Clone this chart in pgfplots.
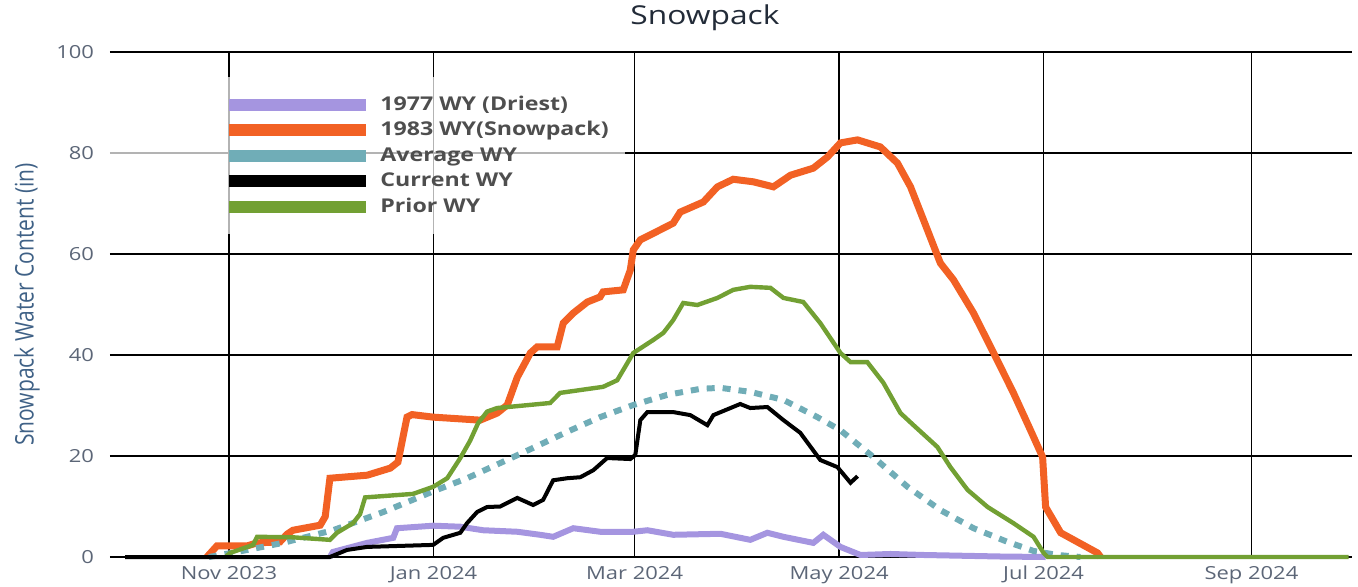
\documentclass[border=0pt]{standalone}
\usepackage{graphicx}
\usepackage{fontspec}
\setmainfont{Open Sans}[FakeStretch=1.22]
\newfontfamily\ylabfont{Open Sans}
\usepackage{pgfplots}
\pgfplotsset{compat=1.18}
\definecolor{purp}{HTML}{A595E0}
\definecolor{orng}{HTML}{F26124}
\definecolor{teal2}{HTML}{70ADB7}
\definecolor{grn}{HTML}{72A033}
\definecolor{tickc}{HTML}{5C6677}
\definecolor{ylabc}{HTML}{3F6186}
\definecolor{titlec}{HTML}{222B38}
\definecolor{legc}{HTML}{4E4E4E}
\begin{document}
\begin{tikzpicture}[x=1pt,y=1pt]
\useasboundingbox (-55,-14.5) rectangle (624,278.5);
\begin{axis}[
  at={(0,0)}, anchor=south west,
  scale only axis, width=621pt, height=252.5pt,
  xmin=-4.5, xmax=366, ymin=0, ymax=100,
  clip=false,
  axis line style={draw=none},
  major tick length=0pt,
  xtick={31,92,152,213,274,336},
  xticklabels={Nov 2023,Jan 2024,Mar 2024,May 2024,Jul 2024,Sep 2024},
  ytick={0,20,40,60,80,100},
  grid=major,
  major grid style={black, line width=0.75pt},
  /pgf/number format/assume math mode=true,
  tick label style={font=\fontsize{9}{10}\selectfont, text=tickc},
  xticklabel style={yshift=-1pt},
  yticklabel style={xshift=-4.5pt},
  title={Snowpack},
  title style={at={(axis description cs:0.479,1)}, anchor=center, yshift=11pt,
    font=\fontsize{13}{15}\selectfont, text=titlec},
  ylabel={\scalebox{1}[1.22]{\ylabfont\fontsize{10.5}{12}\selectfont Snowpack Water Content (in)}},
  ylabel style={at={(axis description cs:-0.0668,0.5)}, anchor=center, text=ylabc},
  legend image code/.code={%
    \path[draw=none] (0pt,0pt) -- (135pt,0pt);
    \draw[#1, line width=6pt] (59.5pt,0pt) -- (128pt,0pt);},
  legend cell align=left,
  legend style={at={(axis description cs:-0.0129,0.9505)}, anchor=north west,
    fill=white, fill opacity=0.7, text opacity=1, draw=none,
    inner xsep=8pt, inner ysep=8pt, row sep=1.2pt, column sep=0pt,
    nodes={inner xsep=0pt, inner ysep=1pt, text height=7.5pt, text depth=2pt},
    font=\bfseries\fontsize{9.5}{11}\selectfont, text=legc},
]
\addlegendimage{purp}
\addlegendentry{1977 WY (Driest)}
\addlegendimage{orng}
\addlegendentry{1983 WY(Snowpack)}
\addlegendimage{teal2}
\addlegendentry{Average WY}
\addlegendimage{black}
\addlegendentry{Current WY}
\addlegendimage{grn}
\addlegendentry{Prior WY}

% 1977 WY (Driest)
\addplot[purp, line width=3pt, forget plot] coordinates {
(61.1,0) (62,1) (72.2,2.8) (80,3.8) (81.1,5.7) (91.9,6.2) (100,6.0)
(106.8,5.3) (117,5.0) (123.8,4.4) (127.7,4.0) (133.7,5.7) (141.7,5.0)
(151.6,5.0) (155.8,5.3) (163.5,4.4) (177.6,4.6) (186.5,3.4) (191.6,4.8)
(196.4,4.0) (205.3,2.8) (208.3,4.4) (213.4,2.0) (219.4,0.4) (228.3,0.6)
(238.2,0.4) (261.1,0.1) (274.6,0)};

% 1983 WY (Snowpack)
\addplot[orng, line width=3.5pt, forget plot] coordinates {
(24.4,0) (27.4,2.2) (36.4,2.2) (39.4,2.8) (46.2,3.0) (48.3,4.5)
(50.1,5.3) (58.2,6.3) (59.7,8) (61.1,15.6) (72.2,16.2) (79.1,17.6)
(81.4,18.8) (84.1,27.7) (85.6,28.2) (91.9,27.7) (105.9,27.1) (111,28.5)
(114,30.1) (117,35.6) (120.9,40.4) (122.9,41.6) (128.9,41.6) (130.7,46.3)
(133.7,48.3) (137.9,50.5) (141.7,51.5) (142.6,52.5) (148.6,52.9)
(150.7,56.8) (151.6,60.8) (153.7,62.8) (157.6,64.1) (163.5,66.1)
(165.6,68.3) (172.5,70.3) (176.7,73.3) (181.4,74.8) (187.4,74.3)
(193.4,73.3) (198.5,75.6) (205.3,77) (209.5,79.2) (213.4,82) (218.5,82.6)
(225.3,81.2) (230.4,78) (234.3,73.3) (238.2,66.7) (243.2,58.2) (247.1,54.9)
(253.1,48.3) (259.1,40.4) (265,32.5) (270.1,25.1) (273.7,19.8) (274.6,9.9)
(279.1,4.8) (290.1,0.8) (291,0)};

% Average WY
\addplot[teal2, line width=3pt, dash pattern=on 4pt off 4pt, forget plot] coordinates {
(25,0) (33.4,1) (47.1,2.8) (62,5.3) (77,8.9) (91.9,13) (102,15.6)
(111.9,18.6) (121.7,21.6) (131.9,24.8) (141.7,27.7) (151.6,30.1)
(161.7,32.1) (171.6,33.3) (177.6,33.5) (186.5,32.7) (196.4,31.1)
(206.5,27.7) (213.4,25.1) (223.2,19.8) (233.4,13.9) (243.2,9.3)
(253.1,5.7) (263.2,3) (271,1.2) (278.2,0.4) (285,0)};

% Prior WY
\addplot[grn, line width=2.2pt, forget plot] coordinates {
(30,0) (31.3,0.8) (38.2,2.4) (39.4,4) (50.1,3.9) (61.1,3.4)
(63.2,4.8) (68,6.7) (70.1,8.5) (71.6,11.8) (85.9,12.5) (91.9,13.9)
(96.1,15.6) (100,19.6) (102.9,23) (105.3,26.5) (108,28.8) (111,29.5)
(126.8,30.5) (129.8,32.5) (142.6,33.7) (146.8,35) (151.6,40.4)
(157.6,43) (160.6,44.4) (163.5,46.9) (166.5,50.3) (170.7,49.9)
(176.7,51.3) (181.4,52.9) (186.5,53.5) (192.5,53.3) (196.4,51.3)
(202.3,50.5) (207.4,46.3) (213.4,40.4) (216.4,38.6) (221.4,38.6)
(226.2,34.5) (231.3,28.5) (235.2,26.1) (242.3,21.8) (246.2,17.8)
(251.3,13.3) (257.3,9.9) (265,6.7) (271,4) (274,0.8) (275.2,0) (365,0)};

% Current WY
\addplot[black, line width=2pt, forget plot] coordinates {
(0,0) (61.1,0) (66.2,1.4) (72.2,2.0) (91.9,2.4) (94.9,3.8) (100,4.8)
(102,6.7) (105,8.9) (108,9.9) (111.9,10) (117,11.7) (121.7,10.3)
(124.7,11.3) (127.7,15.2) (131.9,15.6) (135.8,15.8) (139.7,17.2)
(143.8,19.6) (150.7,19.4) (152.2,20.2) (153.7,27.1) (155.8,28.7)
(163.5,28.7) (168.6,28.1) (173.7,26.1) (175.5,28.1) (183.5,30.3)
(186.5,29.5) (191.6,29.7) (196.4,27.1) (201.4,24.6) (207.4,19.2)
(212.5,17.8) (216.4,14.7) (218.5,16)};
\end{axis}
\end{tikzpicture}
\end{document}
